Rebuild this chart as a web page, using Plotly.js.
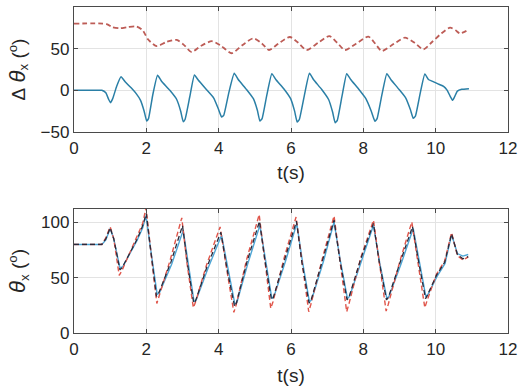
<!DOCTYPE html>
<html>
<head>
<meta charset="utf-8">
<script src="https://cdn.plot.ly/plotly-3.0.1.min.js"></script>
<style>html,body{margin:0;padding:0;background:#fff;}#chart{width:520px;height:389px;}</style>
</head>
<body>
<div id="chart"></div>
<script>
// ---- Top panel: Δθx ----
const tTopBlue = [0, 0.5, 0.77, 0.88, 0.96, 1.01, 1.07, 1.18, 1.30, 1.42, 1.58, 1.72, 1.84, 1.94, 2.01, 2.06, 2.18, 2.31, 2.42, 2.65, 2.84, 2.95, 3.02, 3.07, 3.20, 3.33, 3.44, 3.66, 3.86, 3.99, 4.08, 4.14, 4.28, 4.43, 4.54, 4.77, 4.96, 5.07, 5.14, 5.20, 5.33, 5.47, 5.58, 5.80, 5.99, 6.10, 6.17, 6.23, 6.37, 6.51, 6.62, 6.85, 7.04, 7.15, 7.22, 7.28, 7.41, 7.54, 7.65, 7.88, 8.07, 8.22, 8.32, 8.38, 8.51, 8.65, 8.76, 8.99, 9.17, 9.30, 9.38, 9.44, 9.57, 9.70, 9.80, 9.90, 10.05, 10.21, 10.32, 10.40, 10.47, 10.52, 10.60, 10.72, 10.92];
const dBlue = [0, 0, 0, -3, -11, -14.8, -10, 5, 16.4, 10, 3, -4, -12, -25, -36.8, -34, -5, 18, 11, 0, -11, -25, -37.6, -35, -8, 18.4, 12, 1, -9, -22, -32, -30, -3, 20.4, 13, 1, -10, -24, -36.8, -34, -6, 20, 13, 2, -10, -25, -38, -35, -6, 20.4, 13, 1, -11, -26, -38.8, -36, -7, 20, 13, 1, -10, -25, -37, -34, -6, 20, 13, 1, -9, -23, -33.6, -31, -4, 19.6, 13, 11, 8, 5, 0, -7, -12, -8, -1, 1.2, 2];
const tTopRed = [0, 0.9, 1.05, 1.27, 1.5, 1.73, 1.9, 2.05, 2.29, 2.55, 2.84, 3.05, 3.25, 3.5, 3.81, 4.05, 4.36, 4.65, 4.96, 5.2, 5.39, 5.65, 5.97, 6.2, 6.43, 6.75, 7.06, 7.28, 7.49, 7.8, 8.14, 8.33, 8.51, 8.85, 9.15, 9.42, 9.66, 9.9, 10.15, 10.40, 10.55, 10.67, 10.9];
const dRed = [80, 79.5, 76, 74.5, 76, 76.5, 72, 61, 53, 58, 60.5, 54, 46, 53, 59, 54, 44.5, 54, 62.4, 56, 48.4, 56, 64, 57, 48.4, 57, 65, 57, 48.4, 56, 64.4, 56, 47.2, 56, 63.2, 57, 49.2, 58, 68, 75.2, 72, 68.4, 72.4];

// ---- Bottom panel: θx ----
const tBotBlue = [0, 0.77, 0.88, 1.0, 1.1, 1.27, 1.35, 1.6, 1.75, 1.9, 1.99, 2.1, 2.30, 2.36, 2.7, 3.02, 3.16, 3.32, 3.38, 3.7, 4.08, 4.25, 4.45, 4.51, 4.8, 5.14, 5.30, 5.47, 5.53, 5.85, 6.16, 6.32, 6.51, 6.57, 6.9, 7.19, 7.36, 7.56, 7.62, 7.95, 8.28, 8.45, 8.65, 8.71, 9.05, 9.38, 9.55, 9.73, 9.79, 10.03, 10.26, 10.44, 10.6, 10.75, 10.9];
const thBlue = [80, 80, 84, 94.3, 85, 58.8, 60, 75, 84, 95, 106, 80, 34.8, 36, 62, 92.8, 62, 28.2, 30, 58, 88.3, 58, 25.8, 28, 62, 97.3, 65, 31.3, 33, 65, 98.8, 64, 28.2, 30, 65, 100.3, 66, 31.3, 33, 65, 97.3, 64, 31.3, 33, 63, 94.3, 64, 32.7, 35, 50.7, 62.8, 88.9, 71.8, 69.5, 70.9];
const tBotBlack = [0, 0.77, 0.88, 1.0, 1.1, 1.27, 1.33, 1.6, 1.75, 1.9, 2.0, 2.1, 2.28, 2.33, 2.68, 3.0, 3.14, 3.31, 3.36, 3.68, 4.06, 4.23, 4.44, 4.49, 4.78, 5.13, 5.28, 5.46, 5.51, 5.83, 6.15, 6.30, 6.50, 6.55, 6.88, 7.19, 7.35, 7.55, 7.60, 7.93, 8.28, 8.44, 8.64, 8.69, 9.03, 9.36, 9.53, 9.72, 9.77, 10.02, 10.25, 10.44, 10.6, 10.75, 10.9];
const thBlack = [80, 80, 85, 95, 85, 57, 59, 76, 85, 97, 108, 80, 33, 35, 64, 97, 62, 27, 29, 60, 91, 58, 24, 27, 64, 101, 65, 30, 32, 67, 101, 64, 27, 29, 67, 102, 66, 30, 32, 67, 99, 64, 30, 32, 65, 96, 64, 31, 34, 52, 64, 89.5, 71, 67, 69];
const tBotRed = [0, 0.77, 0.88, 1.0, 1.1, 1.25, 1.32, 1.6, 1.75, 1.9, 1.99, 2.1, 2.29, 2.35, 2.66, 2.98, 3.12, 3.30, 3.36, 3.66, 4.04, 4.22, 4.42, 4.48, 4.77, 5.12, 5.27, 5.44, 5.50, 5.82, 6.14, 6.30, 6.49, 6.55, 6.88, 7.19, 7.35, 7.54, 7.60, 7.93, 8.28, 8.44, 8.63, 8.69, 9.02, 9.34, 9.51, 9.70, 9.76, 10.02, 10.25, 10.44, 10.6, 10.76, 10.9];
const thRed = [80, 80, 86, 96, 85, 52, 56, 77, 87, 99, 113, 82, 26.7, 33, 66, 104, 64, 22.8, 28, 61, 95.8, 58, 18.6, 25, 66, 107, 66, 22.2, 28, 69, 104.8, 64, 19.2, 26, 69, 105.7, 66, 19.2, 26, 68, 101.8, 63, 19.8, 26, 66, 100.3, 64, 22.8, 29, 53, 65, 90.7, 70, 65.8, 68.7];

const xTicks = [0, 2, 4, 6, 8, 10, 12];
const yTopTicks = [-50, 0, 50, 100];
const yBotTicks = [0, 50, 100];

const FONT = 'Liberation Sans, Arial, sans-serif';
const AX = '#4a4a4a';
const TXT = '#262626';
const axisBase = {
  showline: true, linecolor: AX, linewidth: 1.2, mirror: 'allticks',
  ticks: 'inside', ticklen: 4, tickcolor: AX, tickwidth: 1,
  showgrid: true, gridcolor: '#e3e3e3', gridwidth: 1, zeroline: false,
  tickfont: {family: FONT, size: 17, color: TXT}
};

const traces = [
  {x: tTopRed, y: dRed, xaxis: 'x', yaxis: 'y', mode: 'lines', line: {color: '#bd5c56', width: 1.8, dash: '5px,3px', shape: 'spline', smoothing: 0.7}},
  {x: tTopBlue, y: dBlue, xaxis: 'x', yaxis: 'y', mode: 'lines', line: {color: '#2a7fa6', width: 1.5, shape: 'spline', smoothing: 0.4}},
  {x: tBotBlue, y: thBlue, xaxis: 'x2', yaxis: 'y2', mode: 'lines', line: {color: '#4ea6d6', width: 1.4}},
  {x: tBotRed, y: thRed, xaxis: 'x2', yaxis: 'y2', mode: 'lines', line: {color: '#e0554a', width: 1.4, dash: '5px,3px'}},
  {x: tBotBlack, y: thBlack, xaxis: 'x2', yaxis: 'y2', mode: 'lines', line: {color: '#2a2a3a', width: 1.3, dash: '5px,3px'}}
];

const THETA = '<span style="font-style:italic;font-size:22px">θ</span>';
const xDom = [74/520, 508/520];
const layout = {
  width: 520, height: 389, showlegend: false,
  paper_bgcolor: '#fff', plot_bgcolor: '#fff',
  margin: {l: 0, r: 0, t: 0, b: 0},
  xaxis: Object.assign({}, axisBase, {domain: xDom, range: [0, 12], tickvals: xTicks, anchor: 'y',
    title: {text: 't(s)', font: {family: FONT, size: 19, color: TXT}, standoff: 9}}),
  yaxis: Object.assign({}, axisBase, {domain: [1-132/389, 1-7/389], range: [-50, 100], tickvals: yTopTicks, anchor: 'x',
    title: {text: 'Δ&nbsp;' + THETA + '<sub>x</sub>&nbsp;(<sup>o</sup>)', font: {family: FONT, size: 19, color: TXT}, standoff: 10}}),
  xaxis2: Object.assign({}, axisBase, {domain: xDom, range: [0, 12], tickvals: xTicks, anchor: 'y2',
    title: {text: 't(s)', font: {family: FONT, size: 19, color: TXT}, standoff: 11}}),
  yaxis2: Object.assign({}, axisBase, {domain: [1-333/389, 1-209/389], range: [0, 112], tickvals: yBotTicks, anchor: 'x2',
    title: {text: THETA + '<sub>x</sub>&nbsp;(<sup>o</sup>)', font: {family: FONT, size: 19, color: TXT}, standoff: 10}})
};

Plotly.newPlot('chart', traces, layout, {displayModeBar: false, staticPlot: true});
</script>
</body>
</html>
